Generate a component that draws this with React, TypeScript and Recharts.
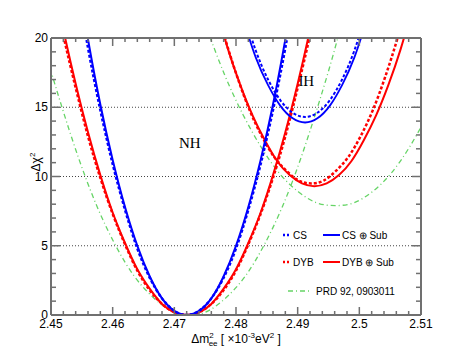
import React from 'react';
import { LineChart, Line, XAxis, YAxis, ReferenceLine, ReferenceDot } from 'recharts';

// tick values and labels
const X_MAJOR = [2.45, 2.46, 2.47, 2.48, 2.49, 2.5, 2.51];
const X_LABELS = ['2.45', '2.46', '2.47', '2.48', '2.49', '2.5', '2.51'];
const Y_MAJOR = [0, 5, 10, 15, 20];
const Y_LABELS = ['0', '5', '10', '15', '20'];
const GRID_Y = [5, 10, 15];

// NH curves (minimum near 2.472)
const CS_NH_X = [2.454, 2.456, 2.458, 2.46, 2.462, 2.464, 2.466, 2.468, 2.47, 2.472, 2.474, 2.476, 2.478, 2.48, 2.482, 2.484, 2.486, 2.488, 2.49];
const CS_SUB_NH = [25.1, 19.9, 15.2, 11.2, 7.8, 5.0, 2.8, 1.2, 0.3, 0, 0.3, 1.2, 2.8, 5.0, 7.8, 11.2, 15.2, 19.9, 25.1];
const CS_NH = [24.5, 19.3, 14.8, 10.9, 7.6, 4.8, 2.7, 1.2, 0.3, 0, 0.3, 1.2, 2.7, 4.8, 7.6, 10.9, 14.8, 19.3, 24.5];

const DYB_NH_X = [2.45, 2.452, 2.454, 2.456, 2.458, 2.46, 2.462, 2.464, 2.466, 2.468, 2.47, 2.472, 2.474, 2.476, 2.478, 2.48, 2.482, 2.484, 2.486, 2.488, 2.49, 2.492, 2.494];
const DYB_SUB_NH = [24.9, 20.6, 16.7, 13.2, 10.1, 7.4, 5.2, 3.3, 1.9, 0.8, 0.2, 0, 0.2, 0.8, 1.9, 3.3, 5.2, 7.4, 10.1, 13.2, 16.7, 20.6, 24.9];
const DYB_NH = [24.4, 20.2, 16.4, 12.9, 9.9, 7.3, 5.1, 3.2, 1.8, 0.8, 0.2, 0, 0.2, 0.8, 1.8, 3.2, 5.1, 7.3, 9.9, 12.9, 16.4, 20.2, 24.4];

const PRD_NH_X = [2.4455, 2.4485, 2.4515, 2.4545, 2.4575, 2.4605, 2.4635, 2.4665, 2.4695, 2.4725, 2.4755, 2.4785, 2.4815, 2.4845, 2.4875, 2.4905, 2.4935, 2.4965, 2.4995];
const PRD_NH = [25.4, 20.0, 15.4, 11.3, 7.8, 5.0, 2.8, 1.3, 0.3, 0, 0.3, 1.3, 2.8, 5.0, 7.8, 11.3, 15.4, 20.0, 25.4];

// IH curves
const CS_IH_X = [2.4812, 2.4832, 2.4852, 2.4872, 2.4892, 2.4912, 2.4932, 2.4952, 2.4972, 2.4992, 2.5012];
const CS_SUB_IH = [21.3, 18.6, 16.6, 15.1, 14.2, 13.9, 14.2, 15.1, 16.6, 18.6, 21.3];
const CS_IH = [21.9, 19.1, 17.0, 15.5, 14.6, 14.3, 14.6, 15.5, 17.0, 19.1, 21.9];

const DYB_SUB_IH_X = [2.4767, 2.4787, 2.4807, 2.4827, 2.4847, 2.4867, 2.4887, 2.4907, 2.4927, 2.4947, 2.4967, 2.4987, 2.5007, 2.5027, 2.5047, 2.5067, 2.5087];
const DYB_SUB_IH = [22.3, 19.2, 16.6, 14.4, 12.6, 11.1, 10.1, 9.5, 9.3, 9.5, 10.1, 11.1, 12.6, 14.4, 16.6, 19.2, 22.3];
const DYB_IH_X = [2.4762, 2.4782, 2.4802, 2.4822, 2.4842, 2.4862, 2.4882, 2.4902, 2.4922, 2.4942, 2.4962, 2.4982, 2.5002, 2.5022, 2.5042, 2.5062, 2.5082];
const DYB_IH = [23.2, 20.0, 17.2, 14.8, 12.9, 11.4, 10.4, 9.7, 9.5, 9.7, 10.4, 11.4, 12.9, 14.8, 17.2, 20.0, 23.2];

const PRD_IH_X = [2.4751, 2.4781, 2.4811, 2.4841, 2.4871, 2.4901, 2.4931, 2.4961, 2.4991, 2.5021, 2.5051, 2.5081, 2.5111, 2.5141, 2.5171];
const PRD_IH = [20.9, 17.4, 14.5, 12.1, 10.2, 8.9, 8.1, 7.9, 8.1, 8.9, 10.2, 12.1, 14.5, 17.4, 20.9];

const zip = (xs: number[], ys: number[]) => xs.map((x, i) => ({ x, y: ys[i] }));

const X_TICKS: number[] = [];
for (let i = 0; i <= 30; i++) X_TICKS.push(Math.round((2.45 + i * 0.002) * 1000) / 1000);
const Y_TICKS: number[] = [];
for (let i = 0; i <= 20; i++) Y_TICKS.push(i);

const BLUE = '#0000ff';
const RED = '#ff0000';
const GREEN = '#66d466';
const AXIS = '#707070';
const SANS = '"Liberation Sans", Arial, sans-serif';
const SERIF = '"Liberation Serif", "Times New Roman", serif';

const xIndex = (v: number) => X_MAJOR.findIndex((m) => Math.abs(m - v) < 1e-6);
const yIndex = (v: number) => Y_MAJOR.findIndex((m) => Math.abs(m - v) < 1e-6);

const BottomTick = (p: any) => {
  const i = xIndex(p.payload.value);
  const major = i >= 0;
  return (
    <g>
      <line x1={p.x} x2={p.x} y1={p.y} y2={p.y - (major ? 8 : 4)} stroke={AXIS} strokeWidth={1.5} />
      {major && (
        <text x={p.x} y={p.y + 13} textAnchor="middle" fontSize={12} fontFamily={SANS} fill="#000">
          {X_LABELS[i]}
        </text>
      )}
    </g>
  );
};

const TopTick = (p: any) => {
  const major = xIndex(p.payload.value) >= 0;
  return <line x1={p.x} x2={p.x} y1={p.y} y2={p.y + (major ? 8 : 4)} stroke={AXIS} strokeWidth={1.5} />;
};

const LeftTick = (p: any) => {
  const i = yIndex(p.payload.value);
  const major = i >= 0;
  return (
    <g>
      <line x1={p.x} x2={p.x + (major ? 9 : 5)} y1={p.y} y2={p.y} stroke={AXIS} strokeWidth={1.5} />
      {major && (
        <text x={p.x - 3} y={p.y + 4} textAnchor="end" fontSize={12} fontFamily={SANS} fill="#000">
          {Y_LABELS[i]}
        </text>
      )}
    </g>
  );
};

const RightTick = (p: any) => {
  const major = yIndex(p.payload.value) >= 0;
  return <line x1={p.x} x2={p.x - (major ? 9 : 5)} y1={p.y} y2={p.y} stroke={AXIS} strokeWidth={1.5} />;
};

const dashed = '3 2';
const dashDot = '5 3 1 3';

export default function App() {
  return (
    <div style={{ position: 'absolute', left: 0, top: 0, width: 473, height: 354, background: '#fff' }}>
      <LineChart width={473} height={354} margin={{ top: 28, right: 42, bottom: 9, left: 11 }}>
        <XAxis
          dataKey="x"
          type="number"
          domain={[2.45, 2.51]}
          allowDataOverflow
          ticks={X_TICKS}
          interval={0}
          tickSize={0}
          tickMargin={0}
          tickLine={false}
          tick={BottomTick}
          height={30}
          axisLine={{ stroke: AXIS, strokeWidth: 2 }}
        />
        <XAxis
          xAxisId="top"
          orientation="top"
          dataKey="x"
          type="number"
          domain={[2.45, 2.51]}
          allowDataOverflow
          ticks={X_TICKS}
          interval={0}
          tickSize={0}
          tickMargin={0}
          tickLine={false}
          tick={TopTick}
          height={10}
          axisLine={{ stroke: AXIS, strokeWidth: 2 }}
        />
        <YAxis
          type="number"
          domain={[0, 20]}
          allowDataOverflow
          ticks={Y_TICKS}
          interval={0}
          tickSize={0}
          tickMargin={0}
          tickLine={false}
          tick={LeftTick}
          width={40}
          axisLine={{ stroke: AXIS, strokeWidth: 2 }}
        />
        <YAxis
          yAxisId="right"
          orientation="right"
          type="number"
          domain={[0, 20]}
          allowDataOverflow
          ticks={Y_TICKS}
          interval={0}
          tickSize={0}
          tickMargin={0}
          tickLine={false}
          tick={RightTick}
          width={10}
          axisLine={{ stroke: AXIS, strokeWidth: 2 }}
        />
        {GRID_Y.map((v) => (
          <ReferenceLine key={v} y={v} stroke="#444" strokeWidth={1} strokeDasharray="1 2" />
        ))}
        <ReferenceDot x={2.4725} y={12.45} r={0} fill="none" stroke="none"
          label={{ value: 'NH', position: 'center', fontFamily: SERIF, fontSize: 15, fill: '#000' }} />
        <ReferenceDot x={2.4914} y={16.95} r={0} fill="none" stroke="none"
          label={{ value: 'IH', position: 'center', fontFamily: SERIF, fontSize: 15, fill: '#000' }} />

        <Line data={zip(PRD_NH_X, PRD_NH)} dataKey="y" type="natural" stroke={GREEN} strokeWidth={1.3} strokeDasharray={dashDot} dot={false} isAnimationActive={false} />
        <Line data={zip(PRD_IH_X, PRD_IH)} dataKey="y" type="natural" stroke={GREEN} strokeWidth={1.3} strokeDasharray={dashDot} dot={false} isAnimationActive={false} />

        <Line data={zip(DYB_NH_X, DYB_NH)} dataKey="y" type="natural" stroke={RED} strokeWidth={2.5} strokeDasharray={dashed} dot={false} isAnimationActive={false} />
        <Line data={zip(DYB_IH_X, DYB_IH)} dataKey="y" type="natural" stroke={RED} strokeWidth={2.5} strokeDasharray={dashed} dot={false} isAnimationActive={false} />
        <Line data={zip(DYB_NH_X, DYB_SUB_NH)} dataKey="y" type="natural" stroke={RED} strokeWidth={2} dot={false} isAnimationActive={false} />
        <Line data={zip(DYB_SUB_IH_X, DYB_SUB_IH)} dataKey="y" type="natural" stroke={RED} strokeWidth={2} dot={false} isAnimationActive={false} />

        <Line data={zip(CS_NH_X, CS_NH)} dataKey="y" type="natural" stroke={BLUE} strokeWidth={2.5} strokeDasharray={dashed} dot={false} isAnimationActive={false} />
        <Line data={zip(CS_IH_X, CS_IH)} dataKey="y" type="natural" stroke={BLUE} strokeWidth={2} strokeDasharray={dashed} dot={false} isAnimationActive={false} />
        <Line data={zip(CS_NH_X, CS_SUB_NH)} dataKey="y" type="natural" stroke={BLUE} strokeWidth={2} dot={false} isAnimationActive={false} />
        <Line data={zip(CS_IH_X, CS_SUB_IH)} dataKey="y" type="natural" stroke={BLUE} strokeWidth={1.8} dot={false} isAnimationActive={false} />
      </LineChart>

      <svg width={473} height={354} style={{ position: 'absolute', left: 0, top: 0, pointerEvents: 'none' }}>
        {/* axis titles */}
        <text x={236} y={343} textAnchor="middle" fontSize={12} fontFamily={SANS} fill="#000">
          Δm
          <tspan fontSize={8} dy={-5}>2</tspan>
          <tspan fontSize={8} dx={-5} dy={8}>ee</tspan>
          <tspan dy={-3}> [ ×10</tspan>
          <tspan fontSize={8} dy={-5}>-3</tspan>
          <tspan dy={5}>eV</tspan>
          <tspan fontSize={8} dy={-5}>2</tspan>
          <tspan dy={5}> ]</tspan>
        </text>
        <text transform="translate(40,162) rotate(-90)" textAnchor="middle" fontSize={12} fontFamily={SANS} fill="#000">
          Δχ<tspan fontSize={8} dy={-5}>2</tspan>
        </text>

        {/* legend */}
        <g fontSize={10} fontFamily={SANS} fill="#000">
          <line x1={283} x2={291} y1={235} y2={235} stroke={BLUE} strokeWidth={2.5} strokeDasharray="2 2" />
          <text x={293} y={239}>CS</text>
          <line x1={323} x2={340} y1={235} y2={235} stroke={BLUE} strokeWidth={2} />
          <text x={342} y={239}>CS ⊕ Sub</text>

          <line x1={283} x2={291} y1={262} y2={262} stroke={RED} strokeWidth={2.5} strokeDasharray="2 2" />
          <text x={293} y={266}>DYB</text>
          <line x1={323} x2={340} y1={262} y2={262} stroke={RED} strokeWidth={2} />
          <text x={342} y={266}>DYB ⊕ Sub</text>

          <line x1={288} x2={312} y1={291} y2={291} stroke={GREEN} strokeWidth={1.3} strokeDasharray={dashDot} />
          <text x={316} y={295}>PRD 92, 0903011</text>
        </g>
      </svg>
    </div>
  );
}
